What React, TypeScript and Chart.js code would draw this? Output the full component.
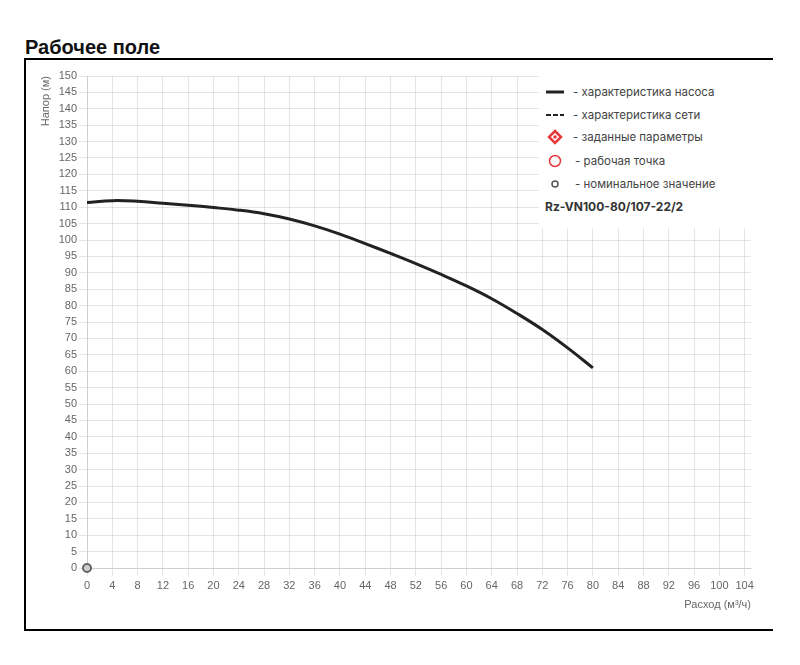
import React, { useEffect, useRef } from "react";
import { Chart, registerables } from "chart.js";

Chart.register(...registerables);

const flowValues = [0, 4, 8, 12, 16, 20, 24, 28, 32, 36, 40, 44, 48, 52, 56, 60, 64, 68, 72, 76, 80];
const headValues = [111.4, 112.0, 111.8, 111.2, 110.6, 109.9, 109.1, 108.0, 106.4, 104.3, 101.8, 98.9, 95.9, 92.8, 89.5, 86.0, 82.1, 77.6, 72.7, 67.1, 61.0];
const nominalPoint = [{ x: 0, y: 0 }];

const xMin = 0;
const xMax = 105;
const xStep = 4;
const yMin = 0;
const yMax = 150;
const yStep = 5;

const chartTitle = "Рабочее поле";
const xTitle = "Расход (м³/ч)";
const yTitle = "Напор (м)";
const legendLabels = [
  "- характеристика насоса",
  "- характеристика сети",
  "- заданные параметры",
  "- рабочая точка",
  "- номинальное значение",
];
const modelName = "Rz-VN100-80/107-22/2";

const TICK_FONT = { family: "'Liberation Sans', Arial, Helvetica, sans-serif", size: 11 };
const LEGEND_FONT = "Inter, 'Liberation Sans', Arial, sans-serif";

function LegendIcon({ kind }: { kind: number }) {
  if (kind === 0) {
    return (
      <svg width="22" height="12" style={{ display: "block" }}>
        <line x1="1" y1="6" x2="19" y2="6" stroke="#222" strokeWidth="3" />
      </svg>
    );
  }
  if (kind === 1) {
    return (
      <svg width="22" height="12" style={{ display: "block" }}>
        <line x1="1" y1="6" x2="19" y2="6" stroke="#222" strokeWidth="2" strokeDasharray="5,2" />
      </svg>
    );
  }
  if (kind === 2) {
    return (
      <svg width="22" height="16" style={{ display: "block" }}>
        <polygon points="10,2 16,8 10,14 4,8" fill="none" stroke="#e8383d" strokeWidth="2.5" />
        <circle cx="10" cy="8" r="1.8" fill="#e8383d" />
      </svg>
    );
  }
  if (kind === 3) {
    return (
      <svg width="22" height="16" style={{ display: "block" }}>
        <circle cx="10" cy="8" r="5.5" fill="none" stroke="#e8383d" strokeWidth="1.5" />
      </svg>
    );
  }
  return (
    <svg width="22" height="12" style={{ display: "block" }}>
      <circle cx="10" cy="6" r="3" fill="none" stroke="#555" strokeWidth="1.5" />
    </svg>
  );
}

export default function App() {
  const canvasRef = useRef<HTMLCanvasElement | null>(null);

  useEffect(() => {
    if (!canvasRef.current) return;
    const chart = new Chart(canvasRef.current, {
      type: "line",
      data: {
        datasets: [
          {
            label: legendLabels[0],
            data: flowValues.map((x, i) => ({ x, y: headValues[i] })),
            borderColor: "#222",
            backgroundColor: "#222",
            borderWidth: 3,
            pointRadius: 0,
            tension: 0.4,
            fill: false,
          },
          {
            label: legendLabels[4],
            data: nominalPoint,
            showLine: false,
            pointRadius: 4,
            pointBorderWidth: 2,
            pointBorderColor: "#666",
            pointBackgroundColor: "#cfcfcf",
            clip: false,
          } as any,
        ],
      },
      options: {
        animation: false,
        responsive: false,
        maintainAspectRatio: false,
        layout: { padding: { top: 16, right: 22, left: 0, bottom: 0 } },
        plugins: {
          legend: { display: false },
          tooltip: { enabled: false },
        },
        scales: {
          x: {
            type: "linear",
            min: xMin,
            max: xMax,
            ticks: { stepSize: xStep, color: "#666", font: TICK_FONT, maxRotation: 0, padding: 3, includeBounds: false },
            grid: { color: "rgba(0,0,0,0.1)" },
            title: {
              display: true,
              text: xTitle,
              align: "end",
              color: "#666",
              font: TICK_FONT,
              padding: { top: 4, bottom: 17 },
            },
            afterFit: (scale: any) => {
              scale.height = 61;
            },
          },
          y: {
            type: "linear",
            min: yMin,
            max: yMax,
            ticks: { stepSize: yStep, color: "#666", font: TICK_FONT, padding: 2 },
            grid: { color: "rgba(0,0,0,0.1)" },
            title: {
              display: true,
              text: yTitle,
              align: "end",
              color: "#666",
              font: TICK_FONT,
              padding: { top: 13, bottom: 4 },
            },
            afterFit: (scale: any) => {
              scale.width = 61;
            },
          },
        },
      } as any,
    });
    return () => chart.destroy();
  }, []);

  const rowTops = [91.5, 114.8, 137.3, 160.7, 184];
  const textLefts = [573, 573, 573, 575, 575];

  return (
    <div style={{ position: "absolute", left: 0, top: 0, width: 800, height: 665, background: "#fff" }}>
      <div
        style={{
          position: "absolute",
          left: 25,
          top: 35,
          fontFamily: "'Liberation Sans', Arial, sans-serif",
          fontWeight: "bold",
          fontSize: 20,
          color: "#111",
          lineHeight: "24px",
          whiteSpace: "nowrap",
        }}
      >
        {chartTitle}
      </div>
      <div
        style={{
          position: "absolute",
          left: 24,
          top: 58,
          width: 749,
          height: 573,
          boxSizing: "border-box",
          borderLeft: "2px solid #000",
          borderTop: "2px solid #000",
          borderBottom: "2px solid #000",
        }}
      />
      <canvas
        ref={canvasRef}
        width={747}
        height={569}
        style={{ position: "absolute", left: 26, top: 60, width: 747, height: 569 }}
      />
      <div
        style={{
          position: "absolute",
          left: 539,
          top: 70,
          width: 226,
          height: 158,
          background: "#fff",
        }}
      />
      {legendLabels.map((label, i) => (
        <React.Fragment key={label}>
          <div
            style={{
              position: "absolute",
              left: 545,
              top: rowTops[i] - (i === 2 || i === 3 ? 8 : 6),
            }}
          >
            <LegendIcon kind={i} />
          </div>
          <div
            style={{
              position: "absolute",
              left: textLefts[i],
              top: rowTops[i] - 8,
              height: 16,
              lineHeight: "16px",
              fontFamily: LEGEND_FONT,
              fontSize: 11.5,
              color: "#444",
              whiteSpace: "nowrap",
            }}
          >
            {label}
          </div>
        </React.Fragment>
      ))}
      <div
        style={{
          position: "absolute",
          left: 545,
          top: 199,
          height: 16,
          lineHeight: "16px",
          fontFamily: LEGEND_FONT,
          fontSize: 12,
          fontWeight: "bold",
          color: "#333",
          whiteSpace: "nowrap",
        }}
      >
        {modelName}
      </div>
    </div>
  );
}
